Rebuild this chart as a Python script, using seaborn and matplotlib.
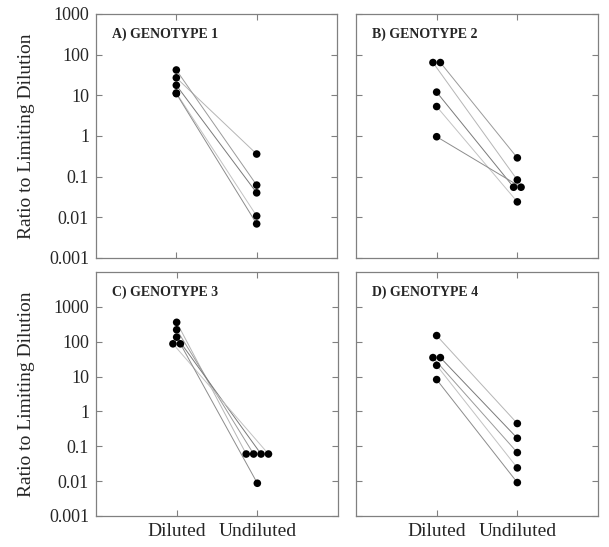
import numpy as np
import pandas as pd
import matplotlib
matplotlib.use("Agg")
import matplotlib.pyplot as plt
from matplotlib.ticker import NullLocator
import seaborn as sns

# values (ratio to limiting dilution), paired by index
PANELS = ["A) GENOTYPE 1", "B) GENOTYPE 2", "C) GENOTYPE 3", "D) GENOTYPE 4"]
A_DILUTED = [27, 42, 17.7, 11.4, 11.0]
A_UNDILUTED = [0.36, 0.062, 0.040, 0.0108, 0.0069]
B_DILUTED = [64, 64, 12, 5.3, 0.96]
B_UNDILUTED = [0.083, 0.29, 0.055, 0.024, 0.055]
C_DILUTED = [360, 220, 135, 87, 87]
C_UNDILUTED = [0.06, 0.06, 0.06, 0.06, 0.0087]
D_DILUTED = [150, 35, 35, 21, 8.2]
D_UNDILUTED = [0.45, 0.066, 0.17, 0.024, 0.0091]
CONDITIONS = ["Diluted", "Undiluted"]
YTICKS = [0.001, 0.01, 0.1, 1, 10, 100, 1000]
YTICK_LABELS = ["0.001", "0.01", "0.1", "1", "10", "100", "1000"]

DILUTED = [A_DILUTED, B_DILUTED, C_DILUTED, D_DILUTED]
UNDILUTED = [A_UNDILUTED, B_UNDILUTED, C_UNDILUTED, D_UNDILUTED]

STEP = 0.092  # horizontal spread for identical values


def dodge(values):
    # spread equal values symmetrically around the category position
    values = np.asarray(values, dtype=float)
    off = np.zeros(len(values))
    for v in np.unique(values):
        idx = np.where(values == v)[0]
        n = len(idx)
        off[idx] = (np.arange(n) - (n - 1) / 2) * STEP
    return off


rows = []
for p, name in enumerate(PANELS):
    for c, vals in enumerate([DILUTED[p], UNDILUTED[p]]):
        offs = dodge(vals)
        for i, v in enumerate(vals):
            rows.append({"panel": name, "cond": c, "pair": i,
                         "value": v, "x": c + offs[i]})
df = pd.DataFrame(rows)

sns.set_style("ticks")
plt.rcParams["font.family"] = ["Liberation Serif", "DejaVu Serif"]

W, H = 609, 547
fig = plt.figure(figsize=(W / 100, H / 100), dpi=100)

# pixel boxes: left, top, right, bottom
boxes = [(96, 14, 337, 258), (356, 14, 598, 258),
         (96, 272, 338, 516), (356, 272, 598, 516)]
ylims = [(0.001, 1000), (0.001, 1000), (0.001, 10000), (0.001, 10000)]
greys = ["#b5b5b5", "#9a9a9a", "#7a7a7a", "#c2c2c2", "#8c8c8c"]

for p, name in enumerate(PANELS):
    l, t, r, b = boxes[p]
    ax = fig.add_axes([l / W, 1 - b / H, (r - l) / W, (b - t) / H])
    sub = df[df["panel"] == name]
    sns.lineplot(data=sub, x="x", y="value", units="pair", estimator=None,
                 hue="pair", palette=greys, legend=False, lw=0.7, ax=ax,
                 zorder=1)
    sns.scatterplot(data=sub, x="x", y="value", color="black", s=30,
                    edgecolor="none", legend=False, ax=ax, zorder=3)
    ax.set_yscale("log")
    ax.set_ylim(*ylims[p])
    ax.set_xlim(-1, 2)
    ax.set_yticks(YTICKS)
    ax.yaxis.set_minor_locator(NullLocator())
    ax.set_xticks([0, 1])
    if p % 2 == 0:
        ax.set_yticklabels(YTICK_LABELS, fontsize=13)
        ax.set_ylabel("Ratio to Limiting Dilution", fontsize=14, labelpad=10)
    else:
        ax.set_yticklabels([])
        ax.set_ylabel("")
    if p >= 2:
        ax.set_xticklabels(CONDITIONS, fontsize=14)
    else:
        ax.set_xticklabels([])
    ax.set_xlabel("")
    ax.tick_params(direction="in", length=4, width=0.8, color="#808080",
                   top=True, right=True, pad=5)
    for s in ax.spines.values():
        s.set_color("#808080")
        s.set_linewidth(0.9)
    ax.text(0.066, 0.945, name, transform=ax.transAxes, fontsize=10,
            fontweight="bold", va="top", ha="left")

fig.savefig("out.png", dpi=100)
